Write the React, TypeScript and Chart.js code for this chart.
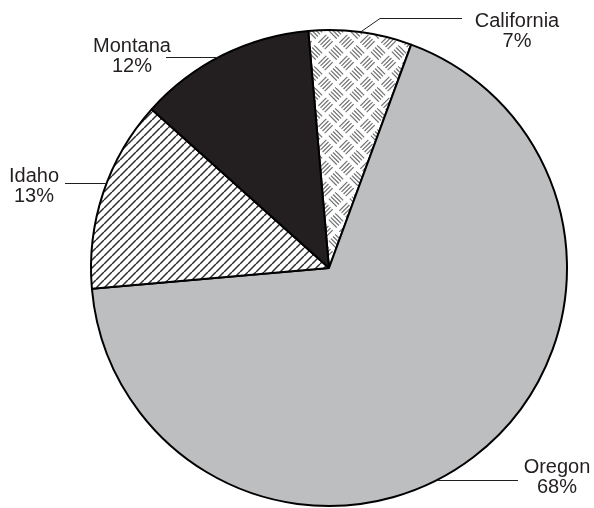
import React, { useEffect, useRef } from 'react';
import { Chart, registerables } from 'chart.js';

Chart.register(...registerables);

// Share of total by state (percent)
const states = ['California', 'Oregon', 'Idaho', 'Montana'];
const shares = [7, 68, 13, 12];

const FONT = '"Liberation Sans", Arial, Helvetica, sans-serif';
const INK = '#231f20';

// Where each callout's text sits and where its leader line ends.
const calloutSpots = [
  { x: 517, y: 27, lineY: 18, lineEnd: 462, elbowX: 380 },
  { x: 557, y: 473, lineY: 480, lineEnd: 518 },
  { x: 34, y: 182, lineY: 183, lineEnd: 65 },
  { x: 132, y: 52, lineY: 57, lineEnd: 166 },
];

// Diamond "weave" fill: short stroke groups alternating direction on a 45° grid.
function weavePattern(): CanvasPattern | string {
  const T = 21;
  const tile = document.createElement('canvas');
  tile.width = T;
  tile.height = T;
  const g = tile.getContext('2d');
  if (!g) return '#ffffff';
  g.fillStyle = '#ffffff';
  g.fillRect(0, 0, T, T);
  g.strokeStyle = '#6f7072';
  g.lineWidth = 1.2;
  g.lineCap = 'butt';
  g.save();
  g.rotate(Math.PI / 4);
  const c = T / Math.SQRT2;
  for (let i = -3; i <= 4; i++) {
    for (let j = -3; j <= 3; j++) {
      const u0 = i * c;
      const v0 = j * c;
      const even = ((i + j) % 2 + 2) % 2 === 0;
      for (let k = 0; k < 4; k++) {
        const off = c * (0.2 + 0.2 * k);
        g.beginPath();
        if (even) {
          g.moveTo(u0 + 0.12 * c, v0 + off);
          g.lineTo(u0 + 0.88 * c, v0 + off);
        } else {
          g.moveTo(u0 + off, v0 + 0.12 * c);
          g.lineTo(u0 + off, v0 + 0.88 * c);
        }
        g.stroke();
      }
    }
  }
  g.restore();
  const ref = document.createElement('canvas').getContext('2d');
  return (ref && ref.createPattern(tile, 'repeat')) || '#ffffff';
}

// Diagonal "/" hatching.
function hatchPattern(): CanvasPattern | string {
  const T = 8;
  const tile = document.createElement('canvas');
  tile.width = T;
  tile.height = T;
  const g = tile.getContext('2d');
  if (!g) return '#ffffff';
  g.fillStyle = '#ffffff';
  g.fillRect(0, 0, T, T);
  g.strokeStyle = '#2e2e2e';
  g.lineWidth = 1.5;
  for (const o of [-T, 0, T]) {
    g.beginPath();
    g.moveTo(o, T);
    g.lineTo(o + T, 0);
    g.stroke();
  }
  const ref = document.createElement('canvas').getContext('2d');
  return (ref && ref.createPattern(tile, 'repeat')) || '#ffffff';
}

const calloutPlugin = {
  id: 'callouts',
  afterDatasetsDraw(chart: any) {
    const ctx: CanvasRenderingContext2D = chart.ctx;
    const arcs = chart.getDatasetMeta(0).data;
    ctx.save();
    ctx.font = `20px ${FONT}`;
    ctx.fillStyle = INK;
    ctx.strokeStyle = INK;
    ctx.lineWidth = 1;
    ctx.textAlign = 'center';
    ctx.textBaseline = 'alphabetic';
    arcs.forEach((arc: any, i: number) => {
      const p = arc.getProps(['x', 'y', 'startAngle', 'endAngle', 'outerRadius'], true);
      const spot = calloutSpots[i];
      const ly = spot.lineY + 0.5;
      ctx.beginPath();
      if (spot.elbowX !== undefined) {
        const mid = (p.startAngle + p.endAngle) / 2;
        const ax = p.x + p.outerRadius * Math.cos(mid);
        const ay = p.y + p.outerRadius * Math.sin(mid);
        ctx.moveTo(ax, ay);
        ctx.lineTo(spot.elbowX, ly);
        ctx.lineTo(spot.lineEnd, ly);
      } else {
        const dy = spot.lineY - p.y;
        const dx = Math.sqrt(Math.max(p.outerRadius * p.outerRadius - dy * dy, 0));
        const ax = spot.lineEnd > p.x ? p.x + dx : p.x - dx;
        ctx.moveTo(ax, ly);
        ctx.lineTo(spot.lineEnd, ly);
      }
      ctx.stroke();
      ctx.fillText(states[i], spot.x, spot.y);
      ctx.fillText(`${shares[i]}%`, spot.x, spot.y + 20);
    });
    ctx.restore();
  },
};

export default function App() {
  const canvasRef = useRef<HTMLCanvasElement | null>(null);

  useEffect(() => {
    const canvas = canvasRef.current;
    if (!canvas) return;
    const chart = new Chart(canvas, {
      type: 'pie',
      data: {
        labels: states,
        datasets: [
          {
            data: shares,
            backgroundColor: [weavePattern(), '#bcbec0', hatchPattern(), INK],
            borderColor: '#000000',
            borderWidth: 2,
          },
        ],
      },
      options: {
        animation: false,
        responsive: false,
        devicePixelRatio: 1,
        rotation: -5,
        layout: { padding: { left: 90, right: 26, top: 29, bottom: 1 } },
        plugins: {
          legend: { display: false },
          tooltip: { enabled: false },
        },
      },
      plugins: [calloutPlugin],
    });
    return () => chart.destroy();
  }, []);

  return (
    <div style={{ position: 'absolute', left: 0, top: 0, width: 594, height: 508, background: '#ffffff' }}>
      <canvas ref={canvasRef} width={594} height={508} style={{ display: 'block' }} />
    </div>
  );
}
